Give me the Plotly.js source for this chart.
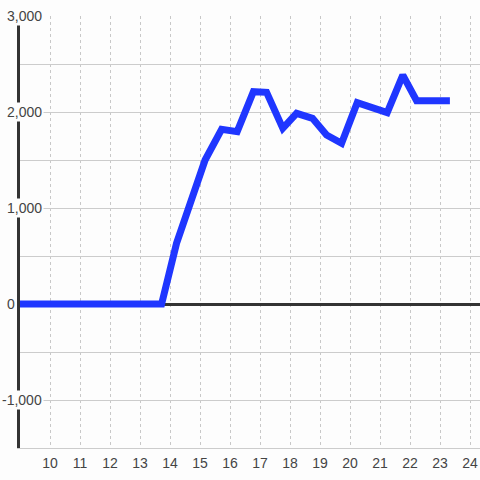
<!DOCTYPE html>
<html>
<head>
<meta charset="utf-8">
<script src="https://cdn.plot.ly/plotly-3.0.1.min.js"></script>
<style>html,body{margin:0;padding:0;background:#fdfdfd;}#chart{width:480px;height:480px;}</style>
</head>
<body>
<div id="chart"></div>
<script>
// Data (hour of day vs value)
const hours = [9.0, 13.72, 14.22, 15.17, 15.72, 16.24, 16.78, 17.22, 17.76, 18.22, 18.75, 19.22, 19.72, 20.24, 21.24, 21.76, 22.22, 23.33];
const values = [0, 0, 635, 1500, 1820, 1795, 2212, 2205, 1830, 1986, 1934, 1760, 1674, 2097, 1993, 2385, 2118, 2118];
const xTicks = [10, 11, 12, 13, 14, 15, 16, 17, 18, 19, 20, 21, 22, 23, 24];
const yTickVals = [3000, 2000, 1000, 0, -1000];
const yTickText = ['3,000', '2,000', '1,000', '0', '-1,000'];

const bg = '#fdfdfd';
const annotations = yTickVals.map((v, i) => ({
  xref: 'paper', yref: 'y', x: 0, y: v,
  text: yTickText[i], showarrow: false,
  xanchor: 'right', yanchor: 'middle',
  xshift: v === 0 ? -3 : 24,
  bgcolor: v === 0 ? 'rgba(0,0,0,0)' : bg, borderpad: 1,
  font: {family: 'Liberation Sans, Arial, sans-serif', size: 14, color: '#444'}
}));

Plotly.newPlot('chart', [{
  x: hours, y: values, type: 'scatter', mode: 'lines',
  line: {color: '#1f36ff', width: 7, shape: 'linear'},
  hoverinfo: 'skip'
}], {
  width: 480, height: 480,
  margin: {l: 20, r: 0, t: 16, b: 32, pad: 0},
  paper_bgcolor: bg, plot_bgcolor: bg,
  showlegend: false,
  font: {family: 'Liberation Sans, Arial, sans-serif', size: 14, color: '#444'},
  xaxis: {
    range: [9, 9 + 460/30], tickvals: xTicks, ticktext: xTicks.map(String),
    showgrid: true, gridcolor: '#c8c8c8', griddash: 'dot', gridwidth: 1,
    zeroline: false, showline: true, linecolor: '#cccccc', linewidth: 1,
    ticks: '', ticklabelstandoff: 2, fixedrange: true
  },
  yaxis: {
    range: [-1500, 3000], dtick: 500, tick0: 0,
    showticklabels: false, showgrid: true, gridcolor: '#cccccc', gridwidth: 1,
    zeroline: true, zerolinecolor: '#333333', zerolinewidth: 3,
    showline: true, linecolor: '#333333', linewidth: 3, ticks: '', fixedrange: true
  },
  annotations: annotations
}, {staticPlot: true});
</script>
</body>
</html>
